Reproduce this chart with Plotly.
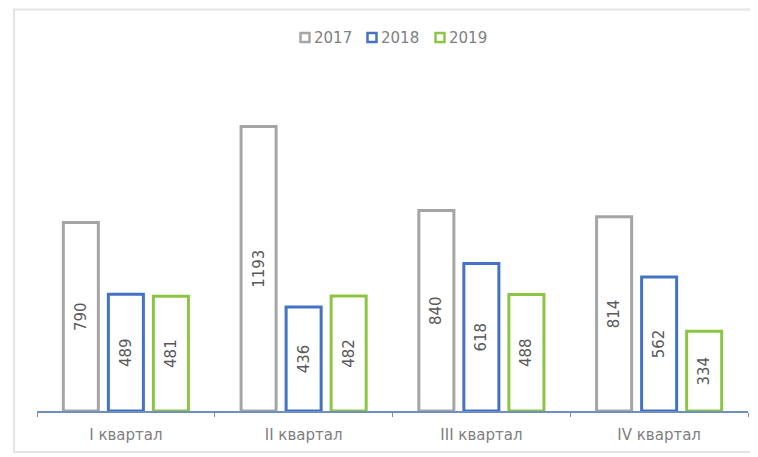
import plotly.graph_objects as go

categories = ["I квартал", "II квартал", "III квартал", "IV квартал"]
series_names = ["2017", "2018", "2019"]
values_2017 = [790, 1193, 840, 814]
values_2018 = [489, 436, 618, 562]
values_2019 = [481, 482, 488, 334]

colors = ["#a5a5a5", "#4472c4", "#8cc544"]
all_values = [values_2017, values_2018, values_2019]

FONT = "DejaVu Sans, sans-serif"

fig = go.Figure()
for name, vals, col in zip(series_names, all_values, colors):
    fig.add_trace(go.Bar(
        x=categories, y=vals, name=name,
        marker=dict(color="white", line=dict(color=col, width=3)),
        text=[str(v) for v in vals],
        textposition="inside", textangle=-90, insidetextanchor="middle",
        textfont=dict(family=FONT, size=15, color="#595959"),
        constraintext="none",
        showlegend=False,
    ))

W, H = 750, 449
L, R, T, B = 29, 10, 68.5, 46
pw, ph = W - L - R, H - T - B


def px_x(sx):
    return (sx - 8 - L) / pw


def px_y(sy):
    return (H - B - (sy - 8)) / ph


shapes = [dict(type="rect", xref="paper", yref="paper",
               x0=-23 / pw, x1=(W + 20 - L) / pw, y0=-41 / ph, y1=(T - 1 + ph) / ph,
               line=dict(color="#e3e3e3", width=2), fillcolor="rgba(0,0,0,0)", layer="below")]
annotations = []
legend_sq_x = [305, 372, 440]
for name, col, sx in zip(series_names, colors, legend_sq_x):
    shapes.append(dict(type="rect", xref="paper", yref="paper",
                       x0=px_x(sx - 4.5), x1=px_x(sx + 4.5),
                       y0=px_y(37 + 4.5), y1=px_y(37 - 4.5),
                       line=dict(color=col, width=2.5), fillcolor="rgba(255,255,255,0)"))
    annotations.append(dict(xref="paper", yref="paper", x=px_x(sx + 7), y=px_y(37),
                            xanchor="left", yanchor="middle", showarrow=False,
                            text=name, font=dict(family=FONT, size=15, color="#808080")))

fig.update_layout(
    width=W, height=H,
    margin=dict(l=L, r=R, t=T, b=B),
    paper_bgcolor="white", plot_bgcolor="white",
    font=dict(family=FONT, size=15, color="#808080"),
    barmode="group", bargap=0.24, bargroupgap=0.222,
    showlegend=False,
    xaxis=dict(showline=True, linecolor="#6f8fc0", linewidth=1.5,
               ticks="outside", ticklen=4, tickcolor="#6f8fc0", tickson="boundaries",
               ticklabelstandoff=9,
               showgrid=False, tickfont=dict(family=FONT, size=15, color="#808080")),
    yaxis=dict(range=[0, 1400], visible=False, showgrid=False),
    shapes=shapes,
    annotations=annotations,
)
fig.write_html("out.html")
